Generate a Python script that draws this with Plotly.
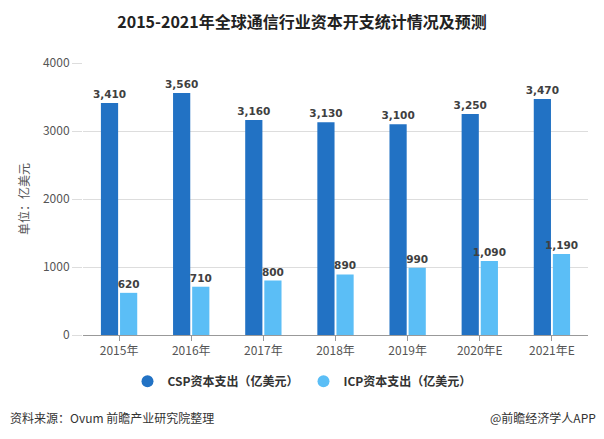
import plotly.graph_objects as go

categories = ["2015年", "2016年", "2017年", "2018年", "2019年", "2020年E", "2021年E"]
csp = [3410, 3560, 3160, 3130, 3100, 3250, 3470]
icp = [620, 710, 800, 890, 990, 1090, 1190]
series_names = ["CSP资本支出（亿美元）", "ICP资本支出（亿美元）"]
colors = ["#2272C4", "#5BBEF6"]
y_ticks = [0, 1000, 2000, 3000, 4000]

FONT = "Noto Sans CJK SC, Noto Sans, sans-serif"
LABEL_FONT = dict(family="DejaVu Sans, sans-serif", size=10.5, color="#404040", weight="bold")

fig = go.Figure()
for vals, name, col in [(csp, series_names[0], colors[0]), (icp, series_names[1], colors[1])]:
    fig.add_trace(go.Bar(
        x=categories, y=vals, name=name, showlegend=False,
        marker=dict(color=col, line=dict(width=0)),
        text=[f"{v:,}" for v in vals], textposition="outside",
        textfont=LABEL_FONT, constraintext="none", cliponaxis=False,
    ))
# legend entries with circle markers
for name, col in zip(series_names, colors):
    fig.add_trace(go.Scatter(
        x=[None], y=[None], mode="markers", name=name,
        marker=dict(symbol="circle", size=12, color=col),
    ))

fig.update_layout(
    width=604, height=439,
    paper_bgcolor="white", plot_bgcolor="white",
    font=dict(family=FONT, color="#555555", size=12),
    title=dict(text="<b>2015-2021年全球通信行业资本开支统计情况及预测</b>",
               x=0.5, xanchor="center", y=0.95, yanchor="middle",
               font=dict(size=16, color="#222222", family=FONT)),
    margin=dict(l=83, r=16, t=63, b=104, autoexpand=False),
    barmode="group", bargap=0.47, bargroupgap=0.1,
    showlegend=True,
    legend=dict(orientation="h", xref="container", x=0.5, xanchor="center",
                y=-0.17, yanchor="middle",
                font=dict(size=12, color="#333333", family=FONT, weight="bold"),
                itemsizing="constant", itemwidth=30, traceorder="normal"),
    xaxis=dict(showgrid=False, showline=True, linecolor="#999999", linewidth=1,
               ticks="outside", ticklen=5, tickcolor="#999999",
               tickfont=dict(size=12, color="#555555")),
    yaxis=dict(range=[0, 4000], tickvals=y_ticks, showgrid=True, gridcolor="#dddddd",
               zeroline=False, showline=False, ticks="outside", ticklen=10,
               tickcolor="#dddddd",
               tickfont=dict(size=12, color="#555555"),
               title=dict(text="单位：亿美元", font=dict(size=12, color="#555555"), standoff=10)),
    annotations=[
        dict(text="资料来源：Ovum 前瞻产业研究院整理", xref="paper", yref="paper",
             x=-75/505, y=-0.305, xanchor="left", yanchor="middle", showarrow=False,
             font=dict(size=12, color="#333333", family=FONT)),
        dict(text="@前瞻经济学人APP", xref="paper", yref="paper",
             x=1.02, y=-0.305, xanchor="right", yanchor="middle", showarrow=False,
             font=dict(size=12, color="#333333", family=FONT)),
    ],
)

fig.write_html("out.html", config={"displayModeBar": False},
               post_script="document.body.style.margin='0';")
